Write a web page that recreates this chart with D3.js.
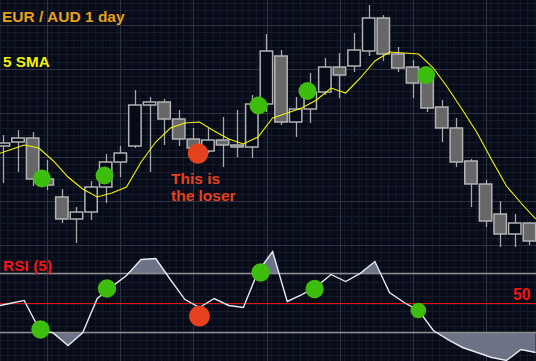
<!DOCTYPE html>
<html><head><meta charset="utf-8">
<script src="https://cdn.jsdelivr.net/npm/d3@7/dist/d3.min.js"></script>
<style>html,body{margin:0;padding:0;background:#070b17;overflow:hidden}svg{display:block}</style>
</head><body><svg id="c" width="536" height="361"></svg>
<script>
// ---------- data ----------
const days  = d3.range(0, 37);
const open  = [1.4208,1.4216,1.4224,1.4142,1.4106,1.4062,1.4076,1.4126,1.4176,1.4208,1.4290,1.4296,1.4262,1.4222,1.4198,1.4220,1.4210,1.4206,1.4292,1.4388,1.4256,1.4282,1.4316,1.4366,1.4368,1.4398,1.4464,1.4392,1.4366,1.4344,1.4286,1.4244,1.4178,1.4132,1.4072,1.4032,1.4054];
const high  = [1.4230,1.4240,1.4236,1.4180,1.4122,1.4086,1.4138,1.4192,1.4208,1.4320,1.4306,1.4302,1.4280,1.4244,1.4244,1.4266,1.4280,1.4310,1.4432,1.4400,1.4306,1.4354,1.4384,1.4394,1.4434,1.4490,1.4470,1.4406,1.4380,1.4356,1.4300,1.4264,1.4182,1.4140,1.4098,1.4072,1.4056];
const low   = [1.4134,1.4156,1.4128,1.4120,1.4054,1.4014,1.4060,1.4094,1.4146,1.4204,1.4156,1.4210,1.4208,1.4190,1.4194,1.4166,1.4186,1.4184,1.4276,1.4250,1.4226,1.4254,1.4310,1.4304,1.4356,1.4388,1.4378,1.4356,1.4304,1.4276,1.4216,1.4166,1.4086,1.4046,1.4006,1.4006,1.4010];
const close = [1.4214,1.4224,1.4142,1.4130,1.4062,1.4076,1.4126,1.4176,1.4194,1.4290,1.4296,1.4262,1.4222,1.4204,1.4220,1.4210,1.4206,1.4292,1.4398,1.4256,1.4282,1.4316,1.4366,1.4350,1.4400,1.4464,1.4392,1.4364,1.4334,1.4284,1.4244,1.4176,1.4132,1.4058,1.4032,1.4054,1.4018];

const lineDays = d3.range(-1, 37);
const sma5 = [1.4190,1.4200,1.4210,1.4204,1.4178,1.4146,1.4122,1.4106,1.4114,1.4126,1.4176,1.4216,1.4244,1.4254,1.4256,1.4238,1.4222,1.4212,1.4226,1.4264,1.4274,1.4284,1.4300,1.4324,1.4314,1.4344,1.4378,1.4396,1.4394,1.4392,1.4364,1.4324,1.4280,1.4234,1.4180,1.4128,1.4094,1.4062];
const rsi5 = [47.3,49.3,51.4,32.4,29.2,20.8,29.4,52.7,60.8,68.3,79.2,79.8,65.6,52.0,46.6,52.7,48.0,46.6,71.0,84.6,50.7,55.4,60.8,69.0,64.2,69.8,77.8,56.8,50.0,44.6,31.0,24.9,19.5,16.1,12.7,10.7,18.1,16.1];
const rsiLevels = [70, 50, 30];

const winIdx   = [2.64, 6.92, 17.46, 20.81, 28.93];
const winPrice = [1.4143, 1.4149, 1.4289, 1.4318, 1.4350];
const loseIdx   = [13.32];
const losePrice = [1.4193];
const winRsiIdx = [2.54, 7.09, 17.6, 21.3, 28.4];
const winRsiVal = [31.7, 59.5, 70.3, 59.2, 44.6];
const loseRsiIdx = [13.42];
const loseRsiVal = [40.8];

const titleText = "EUR / AUD 1 day";
const smaLabel = "5 SMA";
const loserLines = ["This is", "the loser"];
const rsiLabel = "RSI (5)";
const midLabel = "50";

// ---------- scales ----------
const W = 536, H = 361;
const svg = d3.select("#c");
const x = d3.scaleLinear().domain([0, 36]).range([3.4, 529.4]);
const step = x(1) - x(0);
const cw = step * 0.85;
const lx = i => x(i) + cw / 2;          // indicator points sit at right edge of candle
const y = d3.scaleLinear().domain([1.40, 1.45]).range([250, 0]);
const yr = d3.scaleLinear().domain([30, 70]).range([332, 273]);

// ---------- background & grid ----------
svg.append("rect").attr("width", W).attr("height", H).attr("fill", "#070b17");
const grid = svg.append("g");
d3.range(0, W, 7.32).forEach(v => grid.append("line").attr("x1", v+0.5).attr("x2", v+0.5).attr("y1", 0).attr("y2", H).attr("stroke", "#151b2b").attr("stroke-width", 1));
d3.range(3, H, 7.33).forEach(v => grid.append("line").attr("y1", Math.round(v)+0.5).attr("y2", Math.round(v)+0.5).attr("x1", 0).attr("x2", W).attr("stroke", "#151b2b").attr("stroke-width", 1));
d3.range(47, W, 73.2).forEach(v => grid.append("line").attr("x1", Math.round(v)+0.5).attr("x2", Math.round(v)+0.5).attr("y1", 0).attr("y2", H).attr("stroke", "#2e3444").attr("stroke-width", 1.2));
d3.range(25, 250, 44).forEach(v => grid.append("line").attr("y1", v+0.5).attr("y2", v+0.5).attr("x1", 0).attr("x2", W).attr("stroke", "#2e3444").attr("stroke-width", 1.2));

// ---------- RSI panel ----------
const rsiPts = lineDays.map((d, k) => [lx(d), yr(rsi5[k])]);
const defs = svg.append("defs");
defs.append("clipPath").attr("id", "above").append("rect").attr("x", 0).attr("y", 0).attr("width", W).attr("height", yr(70));
defs.append("clipPath").attr("id", "below").append("rect").attr("x", 0).attr("y", yr(30)).attr("width", W).attr("height", H - yr(30));
const areaHi = d3.area().x(d => d[0]).y0(yr(70)).y1(d => d[1]);
const areaLo = d3.area().x(d => d[0]).y0(yr(30)).y1(d => d[1]);
svg.append("path").attr("d", areaHi(rsiPts)).attr("fill", "#6d7386").attr("clip-path", "url(#above)");
svg.append("path").attr("d", areaLo(rsiPts)).attr("fill", "#6d7386").attr("clip-path", "url(#below)");
rsiLevels.forEach(l => svg.append("line").attr("x1", 0).attr("x2", W).attr("y1", Math.round(yr(l))+0.5).attr("y2", Math.round(yr(l))+0.5)
  .attr("stroke", l === 50 ? "#e3140f" : "#8e8e8e").attr("stroke-width", l === 50 ? 1.2 : 1.3));
svg.append("path").attr("d", d3.line()(rsiPts)).attr("fill", "none").attr("stroke", "#e8e8ee").attr("stroke-width", 1.4);

// ---------- candles ----------
const cg = svg.append("g");
days.forEach((d, i) => {
  const up = close[i] >= open[i];
  const cx = Math.round(x(d)) + 0.5;
  const top = y(Math.max(open[i], close[i])), bot = y(Math.min(open[i], close[i]));
  cg.append("line").attr("x1", cx).attr("x2", cx).attr("y1", y(high[i])).attr("y2", y(low[i])).attr("stroke", "#a9a9a9").attr("stroke-width", 1.3);
  cg.append("rect").attr("x", x(d) - cw/2).attr("y", top).attr("width", cw).attr("height", Math.max(1, bot - top))
    .attr("fill", up ? "#070b17" : "#676767").attr("stroke", "#b4b4b4").attr("stroke-width", 1.5);
});

// ---------- SMA ----------
svg.append("path").attr("d", d3.line()(lineDays.map((d, k) => [lx(d), y(sma5[k])])))
  .attr("fill", "none").attr("stroke", "#f5f500").attr("stroke-width", 1.1);

// ---------- markers ----------
const green = "#3dbd0d", red = "#e5411d";
winIdx.forEach((v, k) => svg.append("circle").attr("cx", x(v)).attr("cy", y(winPrice[k])).attr("r", 9).attr("fill", green));
loseIdx.forEach((v, k) => svg.append("circle").attr("cx", x(v)).attr("cy", y(losePrice[k])).attr("r", 10.3).attr("fill", red));
winRsiIdx.forEach((v, k) => svg.append("circle").attr("cx", x(v)).attr("cy", yr(winRsiVal[k])).attr("r", k === 4 ? 7.8 : 9.2).attr("fill", green));
loseRsiIdx.forEach((v, k) => svg.append("circle").attr("cx", x(v)).attr("cy", yr(loseRsiVal[k])).attr("r", 10.5).attr("fill", red));

// ---------- texts ----------
const font = "'Liberation Sans', Arial, Helvetica, sans-serif";
function label(t, px, py, col, size) {
  svg.append("text").attr("x", px).attr("y", py).text(t).attr("fill", col)
    .attr("font-family", font).attr("font-weight", "bold").attr("font-size", size);
}
label(titleText, 2, 22, "#e6a11c", 15.5);
label(smaLabel, 3, 67, "#f2f200", 15.3);
loserLines.forEach((t, k) => label(t, 171, 184 + k * 16.5, "#e5411d", 15.5));
label(rsiLabel, 3, 271, "#f41414", 15.5);
label(midLabel, 513, 300, "#f41414", 15.8);
</script></body></html>
